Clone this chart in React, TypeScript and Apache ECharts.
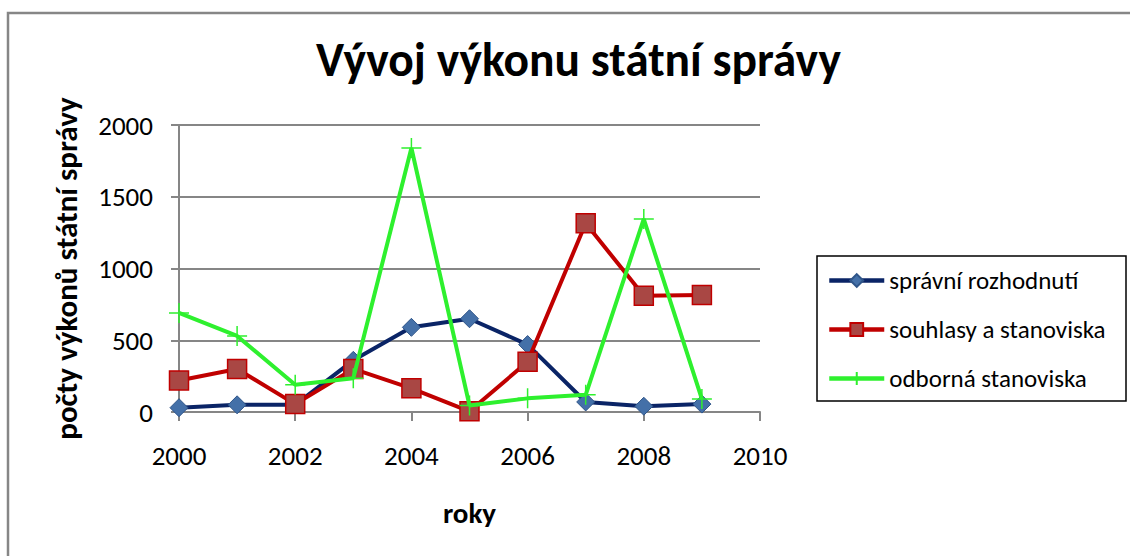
import React, { useEffect, useRef } from "react";
import * as echarts from "echarts";

const years = [2000, 2001, 2002, 2003, 2004, 2005, 2006, 2007, 2008, 2009];
const spravniRozhodnuti = [30, 50, 50, 360, 590, 650, 470, 70, 40, 55];
const souhlasyAStanoviska = [220, 300, 55, 300, 165, 5, 350, 1315, 810, 815];
const odbornaStanoviska = [690, 530, 190, 235, 1840, 45, 95, 120, 1345, 90];
const seriesNames = ["správní rozhodnutí", "souhlasy a stanoviska", "odborná stanoviska"];
const titleText = "Vývoj výkonu státní správy";
const xName = "roky";
const yName = "počty výkonů státní správy";

const FONT = "'Liberation Sans Narrow', Carlito, Calibri, 'Open Sans', sans-serif";

const pairs = (vals: number[]) => years.map((y, i) => [y, vals[i]]);

export default function App() {
  const ref = useRef<HTMLDivElement>(null);
  useEffect(() => {
    document.body.style.margin = "0";
    const chart = echarts.init(ref.current!, null, { renderer: "svg" });
    const plus = "path://M10,0 L10,20 M0,10 L20,10";
    chart.setOption({
      animation: false,
      backgroundColor: "#ffffff",
      title: {
        text: titleText,
        left: 311,
        top: 31,
        textStyle: { fontFamily: FONT, fontSize: 47.5, fontWeight: "bold", color: "#000" },
      },
      grid: { left: 179, right: 370, top: 125, bottom: 144 },
      xAxis: {
        type: "value",
        min: 2000,
        max: 2010,
        interval: 2,
        name: xName,
        nameLocation: "middle",
        nameGap: 86,
        nameTextStyle: { fontFamily: FONT, fontSize: 29, fontWeight: "bold", color: "#000" },
        axisLine: { show: true, lineStyle: { color: "#868686", width: 2 } },
        axisTick: { show: true, length: 9, lineStyle: { color: "#868686", width: 2 } },
        axisLabel: { margin: 30, fontFamily: FONT, fontSize: 27, color: "#000", formatter: (v: number) => String(v) },
        splitLine: { show: false },
      },
      yAxis: {
        type: "value",
        min: 0,
        max: 2000,
        interval: 500,
        name: yName,
        nameLocation: "middle",
        nameGap: 98,
        nameTextStyle: { fontFamily: FONT, fontSize: 31, fontWeight: "bold", color: "#000" },
        axisLine: { show: true, lineStyle: { color: "#868686", width: 2 } },
        axisTick: { show: true, length: 8, lineStyle: { color: "#868686", width: 2 } },
        axisLabel: { margin: 26, fontFamily: FONT, fontSize: 27, color: "#000", formatter: (v: number) => String(v) },
        splitLine: { show: true, lineStyle: { color: "#868686", width: 2 } },
      },
      legend: {
        orient: "vertical",
        left: 827,
        top: 268,
        padding: 0,
        itemWidth: 55,
        itemHeight: 16,
        itemGap: 24,
        lineStyle: { width: 4.5 },
        textStyle: { fontFamily: FONT, fontSize: 25, color: "#000", lineHeight: 20 },
      },
      graphic: [
        { type: "rect", shape: { x: 8, y: 13, width: 1200, height: 700 }, style: { fill: "none", stroke: "#868686", lineWidth: 2.5 }, silent: true, z: -1 },
        { type: "rect", shape: { x: 817, y: 256, width: 309, height: 145 }, style: { fill: "none", stroke: "#000", lineWidth: 1.5 }, silent: true },
      ],
      series: [
        {
          name: seriesNames[0],
          type: "line",
          data: pairs(spravniRozhodnuti),
          symbol: "diamond",
          symbolSize: 18,
          lineStyle: { color: "#0a2466", width: 4 },
          itemStyle: { color: "#4470a8", borderColor: "#2f5589", borderWidth: 1 },
          z: 2,
        },
        {
          name: seriesNames[1],
          type: "line",
          data: pairs(souhlasyAStanoviska),
          symbol: "rect",
          symbolSize: 19,
          lineStyle: { color: "#c00000", width: 4 },
          itemStyle: { color: "#a94744", borderColor: "#c00000", borderWidth: 1.5 },
          z: 3,
        },
        {
          name: seriesNames[2],
          type: "line",
          data: pairs(odbornaStanoviska),
          symbol: plus,
          symbolSize: 20,
          lineStyle: { color: "#2ef02e", width: 4 },
          itemStyle: { color: "#2ef02e", borderColor: "#2ef02e", borderWidth: 1.5 },
          z: 4,
        },
      ],
    });
    return () => chart.dispose();
  }, []);
  return <div ref={ref} style={{ width: 1130, height: 556 }} />;
}
